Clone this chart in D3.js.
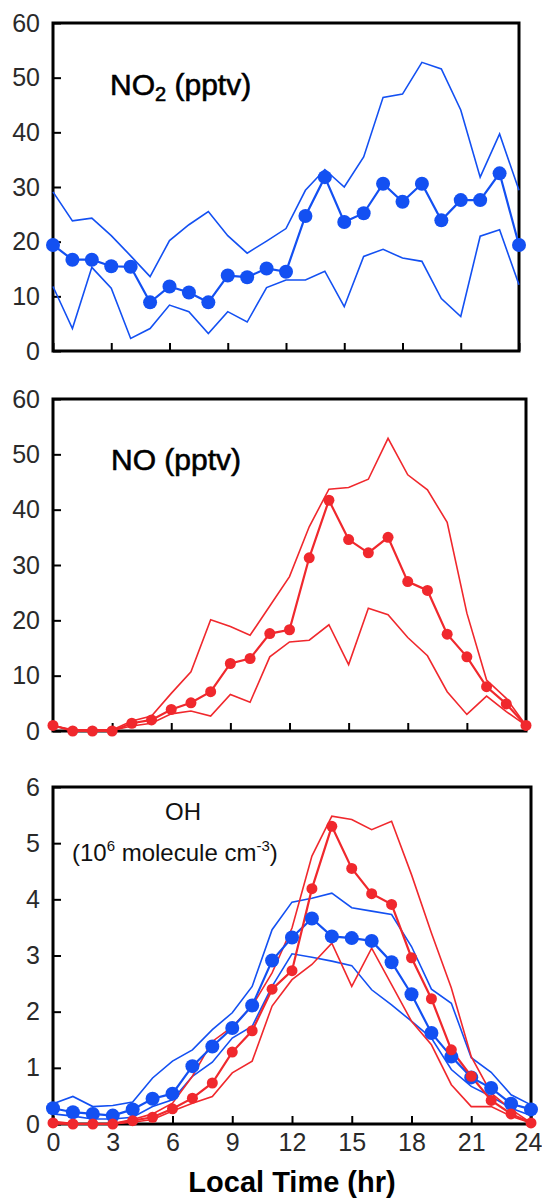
<!DOCTYPE html>
<html>
<head>
<meta charset="utf-8">
<script src="https://cdn.jsdelivr.net/npm/d3@7"></script>
<style>
  body { margin: 0; background: #fff; }
  svg { display: block; font-family: "Liberation Sans", Arial, sans-serif; }
</style>
</head>
<body>
<script>
// Local time (hr)
const hours = [0, 1, 2, 3, 4, 5, 6, 7, 8, 9, 10, 11, 12, 13, 14, 15, 16, 17, 18, 19, 20, 21, 22, 23, 24];
const xTicks = [0, 3, 6, 9, 12, 15, 18, 21, 24];
const pptvTicks = [0, 10, 20, 30, 40, 50, 60];
const ohTicks = [0, 1, 2, 3, 4, 5, 6];

// NO2 (pptv)
const no2Mean  = [19.4, 16.7, 16.7, 15.5, 15.4, 8.9, 11.8, 10.7, 8.9, 13.8, 13.5, 15.1, 14.5, 24.7, 31.8, 23.6, 25.2, 30.6, 27.3, 30.6, 23.9, 27.6, 27.6, 32.5, 19.4];
const no2Upper = [29.1, 23.8, 24.3, 21.1, 17.4, 13.6, 20.2, 23.1, 25.5, 21.1, 17.9, 20.1, 22.4, 29.4, 33.2, 30.0, 35.5, 46.4, 47.0, 52.8, 51.6, 44.1, 31.8, 39.7, 29.4];
const no2Lower = [11.8, 4.1, 15.3, 11.5, 2.3, 4.1, 8.4, 7.2, 3.2, 7.2, 5.3, 11.6, 13.0, 13.0, 14.6, 8.1, 17.3, 18.6, 17.0, 16.4, 9.6, 6.3, 21.0, 22.2, 12.1];

// NO (pptv)
const noMean  = [1.0, 0, 0, 0, 1.4, 2.0, 3.9, 5.1, 7.1, 12.2, 13.1, 17.6, 18.3, 31.3, 41.7, 34.6, 32.2, 35.0, 27.0, 25.4, 17.5, 13.4, 8.0, 4.9, 1.0];
const noUpper = [1.0, 0.2, 0.2, 0.2, 1.8, 2.7, 6.8, 10.7, 20.1, 18.9, 17.3, 22.6, 27.9, 36.9, 43.7, 44.0, 45.5, 52.9, 46.3, 43.6, 37.7, 21.3, 9.2, 5.9, 1.0];
const noLower = [1.0, 0.1, 0.1, 0.1, 0.9, 1.4, 3.1, 3.6, 2.7, 6.6, 5.2, 13.4, 16.1, 16.4, 19.2, 12.0, 22.2, 21.0, 16.9, 13.6, 7.1, 3.0, 6.3, 3.5, 1.0];

// OH (10^6 molecule cm^-3), blue and red
const ohBlueMean  = [0.28, 0.21, 0.18, 0.15, 0.26, 0.45, 0.54, 1.03, 1.38, 1.71, 2.11, 2.91, 3.32, 3.66, 3.34, 3.31, 3.26, 2.88, 2.31, 1.62, 1.20, 0.83, 0.64, 0.36, 0.26];
const ohBlueUpper = [0.36, 0.49, 0.31, 0.33, 0.39, 0.82, 1.12, 1.32, 1.68, 1.98, 2.45, 3.46, 3.95, 4.02, 4.11, 3.85, 3.79, 3.73, 3.16, 2.40, 2.15, 1.18, 0.92, 0.52, 0.34];
const ohBlueLower = [0.18, 0.14, 0.09, 0.09, 0.12, 0.31, 0.43, 0.85, 1.10, 1.53, 1.74, 2.45, 3.03, 2.97, 2.90, 2.82, 2.39, 2.12, 1.83, 1.53, 0.97, 0.67, 0.49, 0.28, 0.15];
const ohRedMean   = [0.02, 0, 0, 0, 0.06, 0.12, 0.27, 0.46, 0.73, 1.28, 1.66, 2.40, 2.73, 4.19, 5.30, 4.55, 4.10, 3.91, 2.96, 2.23, 1.32, 0.85, 0.42, 0.18, 0.02];
const ohRedUpper  = [0.05, 0.01, 0.01, 0.01, 0.08, 0.18, 0.37, 0.85, 1.47, 1.73, 2.10, 2.69, 3.49, 4.77, 5.48, 5.42, 5.24, 5.39, 4.44, 3.40, 2.42, 1.20, 0.55, 0.26, 0.02];
const ohRedLower  = [0, 0, 0, 0, 0.03, 0.08, 0.23, 0.37, 0.49, 0.91, 1.12, 2.10, 2.57, 2.84, 3.22, 2.45, 3.13, 2.48, 1.83, 1.41, 0.70, 0.31, 0.31, 0.14, 0.02];

const blue = '#1350f2';
const red = '#f0282d';

const svg = d3.select('body').append('svg')
  .attr('width', 542)
  .attr('height', 1199);

function drawPanel(box, yMax, yTicks, series, showXLabels) {
  const x = d3.scaleLinear().domain([0, 24]).range([box.x0, box.x1]);
  const y = d3.scaleLinear().domain([0, yMax]).range([box.y1, box.y0]);
  const g = svg.append('g');

  // frame
  g.append('rect')
    .attr('x', box.x0).attr('y', box.y0)
    .attr('width', box.x1 - box.x0).attr('height', box.y1 - box.y0)
    .attr('fill', 'none').attr('stroke', '#000').attr('stroke-width', 3);

  // y axis, ticks inward
  const ya = g.append('g')
    .attr('transform', `translate(${box.x0},0)`)
    .call(d3.axisLeft(y).tickValues(yTicks).tickSize(-8).tickPadding(13).tickFormat(d3.format('d')));
  ya.select('.domain').remove();
  ya.selectAll('line').attr('stroke', '#000').attr('stroke-width', 2);
  ya.selectAll('text').attr('font-size', 25).attr('fill', '#2a2a2a')
    .style('font-family', '"Liberation Sans", Arial, sans-serif');

  // x axis, ticks inward
  const xa = g.append('g')
    .attr('transform', `translate(0,${box.y1})`)
    .call(d3.axisBottom(x).tickValues(xTicks).tickSize(-8).tickPadding(9));
  xa.select('.domain').remove();
  xa.selectAll('line').attr('stroke', '#000').attr('stroke-width', 2);
  if (showXLabels) {
    xa.selectAll('text').attr('font-size', 25).attr('fill', '#2a2a2a')
      .style('font-family', '"Liberation Sans", Arial, sans-serif')
      .attr('dx', d => d === 24 ? -3 : 0);
  } else {
    xa.selectAll('text').remove();
  }

  const line = d3.line().x((d, i) => x(hours[i])).y(d => y(d));

  series.forEach(s => {
    g.append('path')
      .datum(s.values)
      .attr('fill', 'none')
      .attr('stroke', s.color)
      .attr('stroke-width', s.r ? 2.2 : 1.6)
      .attr('d', line);
  });
  series.filter(s => s.r).forEach(s => {
    g.selectAll(null)
      .data(s.values)
      .join('circle')
      .attr('cx', (d, i) => x(hours[i]))
      .attr('cy', d => y(d))
      .attr('r', s.r)
      .attr('fill', s.color);
  });
  return g;
}

// NO2 panel
const p1 = drawPanel({ x0: 53, x1: 519, y0: 23, y1: 351 }, 60, pptvTicks, [
  { values: no2Upper, color: blue },
  { values: no2Lower, color: blue },
  { values: no2Mean, color: blue, r: 7 }
], false);
const t1 = p1.append('text').attr('x', 110).attr('y', 95)
  .attr('font-size', 30).attr('fill', '#000').attr('stroke', '#000').attr('stroke-width', 0.6);
t1.append('tspan').text('NO');
t1.append('tspan').attr('font-size', 20).attr('dy', 6).text('2');
t1.append('tspan').attr('dy', -6).text(' (pptv)');

// NO panel
const p2 = drawPanel({ x0: 53, x1: 526, y0: 399, y1: 731 }, 60, pptvTicks, [
  { values: noUpper, color: red },
  { values: noLower, color: red },
  { values: noMean, color: red, r: 5.5 }
], false);
p2.append('text').attr('x', 111).attr('y', 470)
  .attr('font-size', 30).attr('fill', '#000').attr('stroke', '#000').attr('stroke-width', 0.6)
  .text('NO (pptv)');

// OH panel
const p3 = drawPanel({ x0: 53, x1: 531, y0: 787, y1: 1124 }, 6, ohTicks, [
  { values: ohBlueUpper, color: blue },
  { values: ohBlueLower, color: blue },
  { values: ohRedUpper, color: red },
  { values: ohRedLower, color: red },
  { values: ohBlueMean, color: blue, r: 7 },
  { values: ohRedMean, color: red, r: 5.5 }
], true);
p3.append('text').attr('x', 183).attr('y', 820).attr('text-anchor', 'middle')
  .attr('font-size', 24).attr('fill', '#111').text('OH');
const t3 = p3.append('text').attr('x', 72).attr('y', 861)
  .attr('font-size', 24).attr('fill', '#111');
t3.append('tspan').text('(10');
t3.append('tspan').attr('font-size', 15).attr('dy', -10).text('6');
t3.append('tspan').attr('dy', 10).text(' molecule cm');
t3.append('tspan').attr('font-size', 15).attr('dy', -10).text('-3');
t3.append('tspan').attr('dy', 10).text(')');

// x axis title
svg.append('text').attr('x', 292).attr('y', 1192).attr('text-anchor', 'middle')
  .attr('font-size', 29).attr('font-weight', 'bold').attr('fill', '#000')
  .text('Local Time (hr)');
</script>
</body>
</html>
